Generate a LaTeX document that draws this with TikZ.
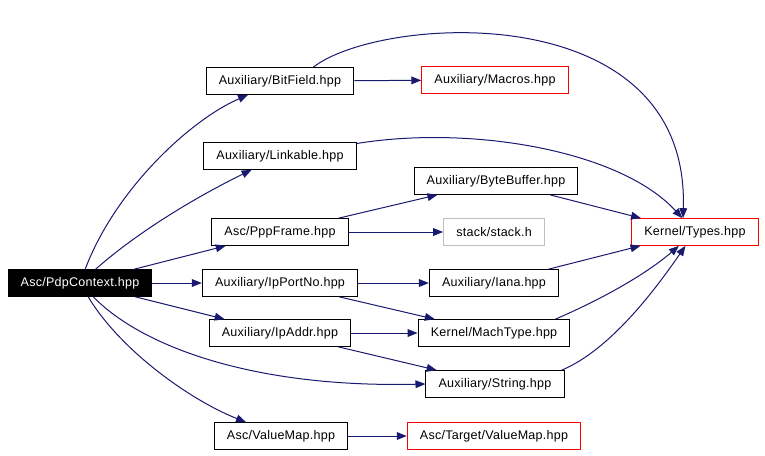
\documentclass[tikz,border=0pt]{standalone}
\usepackage{fontspec}
\setmainfont[LetterSpace=2]{Liberation Sans}
\usepackage{xcolor}
\usetikzlibrary{positioning, arrows.meta}

\definecolor{edgeblue}{HTML}{191970}
\definecolor{missgray}{HTML}{BFBFBF}

\tikzset{
  file/.style={draw=black, line width=0.75pt, fill=white, font=\fontsize{9.4}{11}\selectfont,
    minimum height=20pt, inner xsep=9.5pt, inner ysep=0pt},
  redfile/.style={file, draw=red},
  grayfile/.style={file, draw=missgray},
  rootfile/.style={file, fill=black, text=white},
  dep/.style={draw=edgeblue, line width=0.75pt, -{Triangle[length=7.5pt, width=5.8pt]}}
}

\begin{document}
\begin{tikzpicture}[x=0.75pt, y=-0.75pt]
\useasboundingbox (0,0) rectangle (765,455);
% Root of the include graph
\node[rootfile] (pdp) at (80,283) {Asc/PdpContext.hpp};
% Direct includes (middle column)
\node[file] (bitfield) at (280,81) {Auxiliary/BitField.hpp};
\node[file] (linkable) at (280,156) {Auxiliary/Linkable.hpp};
\node[file] (pppframe) at (280,232) {Asc/PppFrame.hpp};
\node[file] (ipportno) at (280,283) {Auxiliary/IpPortNo.hpp};
\node[file] (ipaddr) at (280,333) {Auxiliary/IpAddr.hpp};
\node[file] (valuemap) at (281,436) {Asc/ValueMap.hpp};
% Second level
\node[redfile] (macros) at (495,80) {Auxiliary/Macros.hpp};
\node[file] (bytebuffer) at (496,181) {Auxiliary/ByteBuffer.hpp};
\node[grayfile] (stack) at (494,232) {stack/stack.h};
\node[file] (iana) at (494,283) {Auxiliary/Iana.hpp};
\node[file] (machtype) at (494,333) {Kernel/MachType.hpp};
\node[file] (string) at (495,384) {Auxiliary/String.hpp};
\node[redfile] (target) at (494,436) {Asc/Target/ValueMap.hpp};
% Third level
\node[redfile] (types) at (695,232) {Kernel/Types.hpp};
% Straight dependencies
\foreach \a/\b in {pdp/ipportno, pdp/pppframe, pdp/ipaddr, bitfield/macros,
    pppframe/stack, pppframe/bytebuffer, ipportno/iana, ipportno/machtype,
    ipaddr/machtype, ipaddr/string, valuemap/target, bytebuffer/types, iana/types} {
  \draw[dep] (\a) -- (\b);
}
% Curved dependencies
\draw[dep] (pdp) .. controls (115,190) and (190,120) .. (bitfield);
\draw[dep] (pdp) .. controls (140,230) and (200,195) .. (linkable);
\draw[dep] (pdp) .. controls (140,345) and (250,388) .. (string.west);
\draw[dep] (pdp) .. controls (120,350) and (190,400) .. (valuemap);
\draw[dep] ([xshift=25pt]bitfield.north) .. controls (380,15) and (690,-5) .. ([xshift=-9pt]types.north);
\draw[dep] (linkable) .. controls (470,125) and (620,150) .. (types);
\draw[dep] ([xshift=46pt]machtype.north) .. controls (600,300) and (645,275) .. (types);
\draw[dep] ([xshift=50pt]string.north) .. controls (610,350) and (655,290) .. (types);
\end{tikzpicture}
\end{document}
